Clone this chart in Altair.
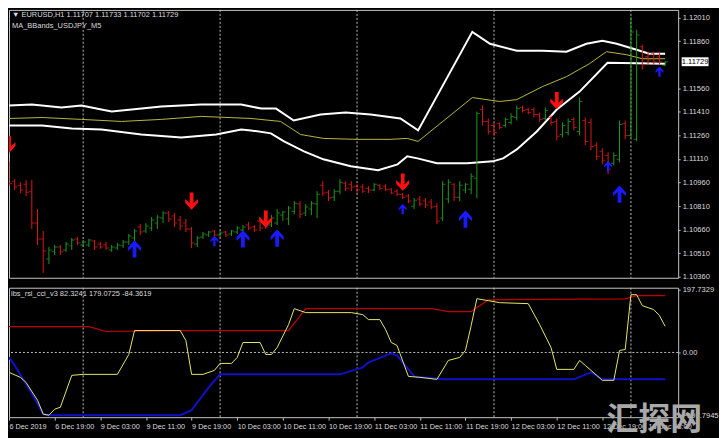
import altair as alt
import pandas as pd

# ---------------- EURUSD H1 bars (bar index 0 = 6 Dec 2019 11:00) ----------------
o = [1.11076,1.10969,1.10943,1.10950,1.10905,1.10702,1.10601,1.10474,1.10519,1.10550,
     1.10531,1.10557,1.10601,1.10563,1.10563,1.10588,1.10569,1.10563,1.10531,1.10544,
     1.10557,1.10582,1.10607,1.10677,1.10652,1.10671,1.10702,1.10734,1.10766,1.10747,
     1.10721,1.10702,1.10664,1.10569,1.10614,1.10626,1.10652,1.10626,1.10645,1.10633,
     1.10645,1.10658,1.10690,1.10677,1.10715,1.10715,1.10690,1.10702,1.10753,1.10728,
     1.10778,1.10823,1.10766,1.10791,1.10823,1.10943,1.10899,1.10867,1.10905,1.10956,
     1.10950,1.10937,1.10931,1.10924,1.10912,1.10943,1.10937,1.10918,1.10905,1.10886,
     1.10874,1.10810,1.10855,1.10842,1.10836,1.10810,1.10734,1.10855,1.10950,1.10867,
     1.10912,1.10918,1.10988,1.11425,1.11349,1.11323,1.11336,1.11323,1.11343,1.11374,
     1.11438,1.11425,1.11425,1.11393,1.11368,1.11374,1.11349,1.11266,1.11279,1.11362,
     1.11285,1.11355,1.11343,1.11197,1.11159,1.11133,1.11083,1.11108,1.11336,1.11260,
     1.11235,1.11824,1.11761,1.11780,1.11761,1.11707]
h = [1.11095,1.10981,1.10962,1.10975,1.10975,1.10791,1.10652,1.10550,1.10563,1.10563,
     1.10582,1.10607,1.10614,1.10595,1.10601,1.10595,1.10582,1.10582,1.10563,1.10576,
     1.10595,1.10633,1.10664,1.10696,1.10702,1.10740,1.10753,1.10778,1.10778,1.10766,
     1.10747,1.10728,1.10677,1.10620,1.10645,1.10652,1.10658,1.10652,1.10652,1.10658,
     1.10683,1.10690,1.10709,1.10690,1.10740,1.10728,1.10753,1.10791,1.10778,1.10810,
     1.10842,1.10842,1.10823,1.10842,1.10905,1.10969,1.10912,1.10918,1.10981,1.10969,
     1.10969,1.10950,1.10950,1.10937,1.10956,1.10950,1.10950,1.10924,1.10918,1.10893,
     1.10886,1.10861,1.10874,1.10861,1.10855,1.10829,1.10969,1.10981,1.10956,1.10969,
     1.10956,1.11019,1.11412,1.11450,1.11368,1.11336,1.11343,1.11374,1.11400,1.11450,
     1.11450,1.11438,1.11438,1.11406,1.11438,1.11387,1.11368,1.11343,1.11368,1.11374,
     1.11501,1.11374,1.11368,1.11216,1.11178,1.11152,1.11152,1.11355,1.11355,1.12014,
     1.11932,1.11837,1.11793,1.11793,1.11793,1.11733]
l = [1.10937,1.10912,1.10893,1.10874,1.10664,1.10563,1.10385,1.10442,1.10500,1.10500,
     1.10519,1.10531,1.10563,1.10550,1.10550,1.10531,1.10538,1.10531,1.10519,1.10531,
     1.10544,1.10563,1.10588,1.10626,1.10639,1.10652,1.10664,1.10702,1.10709,1.10677,
     1.10658,1.10645,1.10544,1.10550,1.10601,1.10614,1.10614,1.10614,1.10614,1.10620,
     1.10633,1.10645,1.10658,1.10645,1.10652,1.10664,1.10677,1.10690,1.10715,1.10690,
     1.10759,1.10734,1.10747,1.10753,1.10734,1.10874,1.10842,1.10842,1.10886,1.10905,
     1.10905,1.10893,1.10893,1.10893,1.10905,1.10912,1.10905,1.10886,1.10874,1.10855,
     1.10829,1.10791,1.10810,1.10798,1.10791,1.10696,1.10715,1.10829,1.10842,1.10842,
     1.10893,1.10886,1.10861,1.11323,1.11266,1.11260,1.11298,1.11311,1.11330,1.11355,
     1.11406,1.11393,1.11374,1.11343,1.11355,1.11323,1.11228,1.11247,1.11260,1.11292,
     1.11260,1.11197,1.11165,1.11102,1.11076,1.11013,1.11070,1.11089,1.11235,1.11241,
     1.11222,1.11679,1.11710,1.11710,1.11710,1.11702]
c = [1.10956,1.10931,1.10912,1.10899,1.10702,1.10601,1.10525,1.10531,1.10550,1.10519,
     1.10569,1.10595,1.10576,1.10582,1.10595,1.10550,1.10550,1.10544,1.10550,1.10563,
     1.10582,1.10620,1.10652,1.10645,1.10683,1.10721,1.10740,1.10766,1.10728,1.10702,
     1.10683,1.10664,1.10576,1.10607,1.10633,1.10645,1.10626,1.10639,1.10626,1.10652,
     1.10671,1.10677,1.10671,1.10658,1.10671,1.10677,1.10734,1.10766,1.10772,1.10798,
     1.10829,1.10759,1.10804,1.10829,1.10886,1.10893,1.10861,1.10905,1.10962,1.10924,
     1.10931,1.10912,1.10905,1.10912,1.10950,1.10924,1.10918,1.10893,1.10886,1.10867,
     1.10842,1.10848,1.10823,1.10817,1.10804,1.10715,1.10950,1.10962,1.10867,1.10943,
     1.10950,1.11000,1.11400,1.11349,1.11285,1.11279,1.11311,1.11362,1.11381,1.11431,
     1.11419,1.11406,1.11393,1.11362,1.11419,1.11343,1.11254,1.11323,1.11349,1.11311,
     1.11476,1.11222,1.11190,1.11127,1.11102,1.11045,1.11133,1.11330,1.11260,1.11919,
     1.11900,1.11710,1.11742,1.11729,1.11729,1.11729]

# ---------------- MA_BBands_USDJPY_M5 overlay (bar, price) ----------------
bb_up_bar = [0,4,9.2,12.7,16.2,18,21.5,26.7,33.7,40.7,42.4,44.2,46.8,49.9,54.6,59,63.4,68.6,71.7,
             81.2,84.3,89,93.5,97.7,101.2,104,106.5,110,112.2,115]
bb_up_val = [1.11450,1.11457,1.11438,1.11450,1.11425,1.11412,1.11425,1.11444,1.11457,1.11457,1.11444,
             1.11431,1.11431,1.11355,1.11393,1.11406,1.11393,1.11368,1.11292,
             1.11919,1.11843,1.11799,1.11799,1.11793,1.11843,1.11862,1.11843,1.11805,1.11780,1.11780]
bb_mid_bar = [0,5.8,12.7,19.7,26.7,33.7,42.4,47.6,51.1,55.1,61.1,66.8,69.8,71.7,81.2,86,89,93.5,97.7,
              101.7,104.7,108.2,111,115]
bb_mid_val = [1.11368,1.11374,1.11362,1.11349,1.11362,1.11381,1.11368,1.11349,1.11266,1.11241,1.11235,
              1.11235,1.11241,1.11222,1.11501,1.11476,1.11488,1.11571,1.11634,1.11716,1.11793,1.11774,
              1.11748,1.11748]
bb_lo_bar = [0,5.8,11,16.2,23.2,30.2,36.3,40.7,42.4,45.9,48.2,51.7,55.1,59.9,64.7,68.1,69.8,71.6,75,
             80.3,84.8,86.6,89,92.5,96,100,104.9,115]
bb_lo_val = [1.11323,1.11323,1.11304,1.11298,1.11266,1.11247,1.11266,1.11298,1.11292,1.11273,1.11222,
             1.11159,1.11108,1.11064,1.11038,1.11076,1.11127,1.11114,1.11083,1.11083,1.11095,1.11114,
             1.11171,1.11285,1.11425,1.11539,1.11723,1.11716]

# signal arrows
down_bar = [0, 32, 45, 69, 96]
down_val = [1.11203, 1.10842, 1.10728, 1.10962, 1.11482]
up_bar = [22, 36, 41, 47, 69, 80, 105, 107, 114]
up_val = [1.10538, 1.10588, 1.10601, 1.10607, 1.10791, 1.10728, 1.11064, 1.10886, 1.11666]
up_big = [1, 0, 1, 1, 0, 1, 0, 1, 0]

# ---------------- ibs_rsi_cci_v3 ----------------
red_bar = [0,14,17,30,49,52,74,77,81,84,108,110,115]
red_val = [81.6,81.6,66,69,69,138,138,129,129,166,169,179,179.0725]
yel_bar = [0,2,3,5,6,7,8,9,11,13,19,21,22,30,31,32,34,36,37,39,40,41,44,45,46,47,49,50,52,60,62,63,
           65,66,67,68,70,72,75,77,79,80,81,82,84,86,91,93,95,96,99,100,101,103,104,106,107,108,109,
           110,111,113,114,115]
yel_val = [-62.8,-78.5,-95,-150.7,-194.7,-197.8,-179,-172.7,-72.2,-69.1,-69.1,-6.3,69.1,69.1,37.7,-69.1,
           -69.1,-56.5,-34.5,-34.5,-15.7,31.4,31.4,-6.3,-6.3,15.7,87.9,138.2,125.6,125.6,119.3,103.6,
           103.6,72.2,31.4,22,-75.4,-78.5,-84.8,-25.1,-15.7,6.3,84.8,169.6,163.3,157,153.9,87.9,15.7,
           -53.4,-53.4,-25.1,-40.8,-72.2,-87.9,-87.9,6.3,9.4,182.1,182.1,147.6,135,116.2,82.3241]
blu_bar = [0,1,3,4,6,7,30,32,35,37,58,62,63,67,68,71,76,99,102,104,115]
blu_val = [-15.7,-40.8,-100,-130,-194.7,-197.8,-197.8,-182,-110,-69.1,-69.1,-47.1,-31.4,-3.1,-9.4,-75.4,
           -84.8,-84.8,-62.8,-84.8,-84.3619]

# time axis
tick_bars = [0,8,16,24,32,40,48,56,64,72,80,88,96,104,112]
tick_text = ["6 Dec 2019","6 Dec 19:00","9 Dec 03:00","9 Dec 11:00","9 Dec 19:00","10 Dec 03:00",
             "10 Dec 11:00","10 Dec 19:00","11 Dec 03:00","11 Dec 11:00","11 Dec 19:00","12 Dec 03:00",
             "12 Dec 11:00","12 Dec 19:00","13 Dec 03:00"]
day_sep = [13, 37, 61, 85, 109]
price_ticks = [1.12010,1.11860,1.11560,1.11410,1.11260,1.11110,1.10960,1.10810,1.10660,1.10510,1.10360]
ind_ticks = [197.7329, 0, -197.7945]
last_price = 1.11729

# ---------------- layout ----------------
W = 672
H1 = 269
H2 = 130
TXT = "#dcdcdc"
FONT = "Liberation Sans"

xs = alt.Scale(domain=[0, 117.28], nice=False, zero=False)
ys = alt.Scale(domain=[1.10354, 1.12059], nice=False, zero=False)
ys2 = alt.Scale(domain=[-204.1, 204.1], nice=False, zero=False)

yaxis = alt.Axis(orient="right", values=price_ticks, format=".5f", title=None, grid=False, domain=False,
                 labelColor=TXT, tickColor="#bbbbbb", tickSize=2, labelPadding=2,
                 labelFont=FONT, labelFontSize=7.6)
X = alt.X("bar:Q", scale=xs, axis=None)

cd = pd.DataFrame({"bar": list(range(len(c))), "open": o, "high": h, "low": l, "close": c})
cd["dir"] = ["up" if cc >= oo else "down" for oo, cc in zip(o, c)]
col = alt.Color("dir:N", scale=alt.Scale(domain=["up", "down"], range=["#1d9a1d", "#e01616"]), legend=None)

sep_df = pd.DataFrame({"bar": day_sep})
grid_top = alt.Chart(sep_df).mark_rule(color="#bdbdbd", strokeDash=[2, 2], strokeWidth=1).encode(x=X)

def band(bars, vals, color, width):
    d = pd.DataFrame({"bar": bars, "v": vals})
    return alt.Chart(d).mark_line(color=color, strokeWidth=width, clip=True).encode(
        x=X, y=alt.Y("v:Q", scale=ys, axis=yaxis))

band_up = band(bb_up_bar, bb_up_val, "white", 2)
band_mid = band(bb_mid_bar, bb_mid_val, "#b9b83a", 1)
band_lo = band(bb_lo_bar, bb_lo_val, "white", 2)

wick = alt.Chart(cd).mark_rule(strokeWidth=1, clip=True).encode(
    x=X, y=alt.Y("low:Q", scale=ys, axis=yaxis), y2="high:Q", color=col)
otick = alt.Chart(cd).mark_tick(orient="horizontal", size=3, thickness=1, xOffset=-1.5, clip=True).encode(
    x=X, y=alt.Y("open:Q", scale=ys, axis=yaxis), color=col)
ctick = alt.Chart(cd).mark_tick(orient="horizontal", size=3, thickness=1, xOffset=1.5, clip=True).encode(
    x=X, y=alt.Y("close:Q", scale=ys, axis=yaxis), color=col)

DOWN = "M-0.22,-1 L0.22,-1 L0.22,0.25 L0.75,-0.25 L0.75,0.2 L0,1 L-0.75,0.2 L-0.75,-0.25 L-0.22,0.25 Z"
UP = "M-0.22,1 L0.22,1 L0.22,-0.25 L0.75,0.25 L0.75,-0.2 L0,-1 L-0.75,-0.2 L-0.75,0.25 L-0.22,-0.25 Z"
dn_df = pd.DataFrame({"bar": down_bar, "v": down_val})
up_df = pd.DataFrame({"bar": up_bar, "v": up_val, "big": up_big})
dn_arrows = alt.Chart(dn_df).mark_point(shape=DOWN, filled=True, opacity=1, color="#ff1010", size=300,
                                        clip=True).encode(
    x=X, y=alt.Y("v:Q", scale=ys, axis=yaxis))
up_arrows = alt.Chart(up_df).mark_point(shape=UP, filled=True, opacity=1, color="#1a1aff", clip=True).encode(
    x=X, y=alt.Y("v:Q", scale=ys, axis=yaxis),
    size=alt.Size("big:N", scale=alt.Scale(domain=[0, 1], range=[110, 300]), legend=None))

lp_df = pd.DataFrame({"v": [last_price], "t": [f"{last_price:.5f}"]})
lp_box = alt.Chart(lp_df).mark_point(shape="M-1,-0.33 L1,-0.33 L1,0.33 L-1,0.33 Z", filled=True,
                                     color="white", opacity=1, size=729).encode(
    x=alt.value(W + 17), y=alt.Y("v:Q", scale=ys, axis=yaxis))
lp_txt = alt.Chart(lp_df).mark_text(color="black", font=FONT, fontSize=7.6, align="center",
                                    baseline="middle").encode(
    x=alt.value(W + 17), y=alt.Y("v:Q", scale=ys, axis=yaxis), text="t:N")

hdr1 = alt.Chart(pd.DataFrame({"t": ["\u25BC EURUSD,H1  1.11707 1.11733 1.11702 1.11729"]})).mark_text(
    color=TXT, font=FONT, fontSize=7.5, align="left", baseline="top").encode(
    x=alt.value(3), y=alt.value(1), text="t:N")
hdr2 = alt.Chart(pd.DataFrame({"t": ["MA_BBands_USDJPY_M5"]})).mark_text(
    color=TXT, font=FONT, fontSize=7.5, align="left", baseline="top").encode(
    x=alt.value(3), y=alt.value(12), text="t:N")

upper = alt.layer(grid_top, band_up, band_mid, band_lo, wick, otick, ctick, dn_arrows, up_arrows,
                  lp_box, lp_txt, hdr1, hdr2).properties(width=W, height=H1)

# ---------------- indicator panel ----------------
iaxis = alt.Axis(orient="right", values=ind_ticks, title=None, grid=False, domain=False,
                 labelExpr="datum.value == 0 ? '0.00' : format(datum.value, '.4f')",
                 labelColor=TXT, tickColor="#bbbbbb", tickSize=2, labelPadding=2,
                 labelFont=FONT, labelFontSize=7.6)
X2 = alt.X("bar:Q", scale=xs, axis=alt.Axis(
    values=tick_bars, title=None, grid=False, domain=False, labelAlign="left", labelFlush=False,
    labelOverlap=False, labelPadding=2, tickSize=3, tickColor="#bbbbbb", labelColor=TXT,
    labelFont=FONT, labelFontSize=7.3,
    labelExpr="[" + ",".join("'%s'" % t for t in tick_text) + "][round(datum.value / 8)]"))

grid_bot = alt.Chart(sep_df).mark_rule(color="#bdbdbd", strokeDash=[2, 2], strokeWidth=1).encode(x=X2)
zero_df = pd.DataFrame({"z": [0]})
zero_line = alt.Chart(zero_df).mark_rule(color="#bdbdbd", strokeDash=[2, 2], strokeWidth=1).encode(
    y=alt.Y("z:Q", scale=ys2, axis=iaxis))

def ind(bars, vals, color, width):
    d = pd.DataFrame({"bar": bars, "v": vals})
    return alt.Chart(d).mark_line(color=color, strokeWidth=width, clip=True).encode(
        x=X2, y=alt.Y("v:Q", scale=ys2, axis=iaxis))

red_l = ind(red_bar, red_val, "#c00000", 1.2)
blu_l = ind(blu_bar, blu_val, "#1010c8", 2)
yel_l = ind(yel_bar, yel_val, "#e6e66a", 1)

ihdr = alt.Chart(pd.DataFrame({"t": ["ibs_rsi_cci_v3 82.3241 179.0725 -84.3619"]})).mark_text(
    color=TXT, font=FONT, fontSize=7.5, align="left", baseline="middle").encode(
    x=alt.value(2), y=alt.value(6), text="t:N")

wm = alt.Chart(pd.DataFrame({"t": ["汇探网"]})).mark_text(
    color="#a9a9a9", font="Noto Sans CJK SC", fontSize=32, fontWeight="bold", align="center",
    baseline="middle").encode(x=alt.value(648), y=alt.value(133), text="t:N")

lower = alt.layer(grid_bot, zero_line, red_l, blu_l, yel_l, ihdr, wm).properties(width=W, height=H2)

chart = alt.vconcat(upper, lower, spacing=3).configure(background="black", padding=0).configure_view(
    stroke="#c4c4c4", strokeWidth=1)

chart.save("out.html", embed_options={"renderer": "svg", "actions": False})
